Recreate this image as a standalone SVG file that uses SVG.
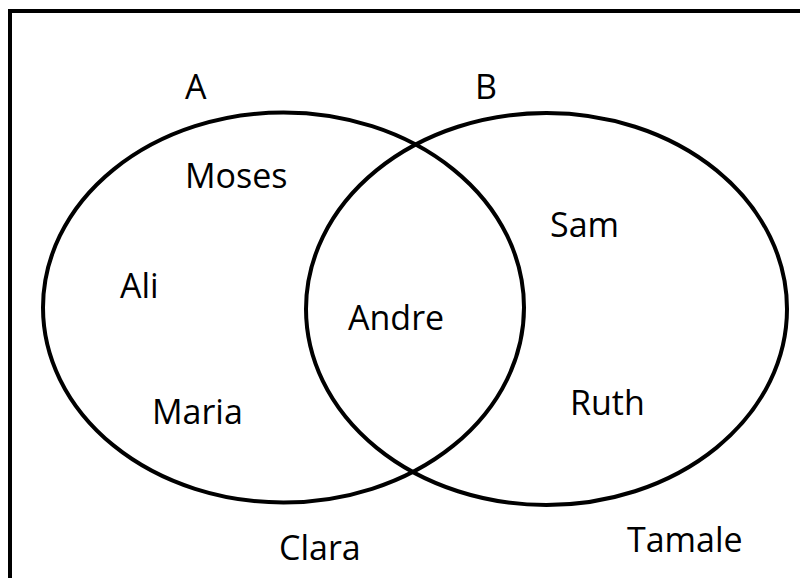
<svg xmlns="http://www.w3.org/2000/svg" width="800" height="578" viewBox="0 0 800 578">
<style>
.frame{fill:none;stroke:#000;stroke-width:4}
.set{fill:none;stroke:#000;stroke-width:4}
text{font-family:"Open Sans","Liberation Sans",sans-serif;font-size:34px;fill:#000}
</style>
<rect width="800" height="578" fill="#fff"/>
<rect class="frame" x="10" y="11" width="800" height="600"/>
<g id="setA">
<ellipse class="set" cx="283.5" cy="307.5" rx="240.5" ry="195"/>
<text x="185" y="99">A</text>
</g>
<g id="setB">
<ellipse class="set" cx="546.5" cy="309" rx="240.5" ry="196"/>
<text x="475" y="99">B</text>
</g>
<g id="connectors"></g>
<g id="moses"><text x="185" y="188">Moses</text></g>
<g id="ali"><text x="120" y="298">Ali</text></g>
<g id="maria"><text x="152" y="424">Maria</text></g>
<g id="andre"><text x="348" y="330">Andre</text></g>
<g id="sam"><text x="550" y="237">Sam</text></g>
<g id="ruth"><text x="570" y="415">Ruth</text></g>
<g id="clara"><text x="279" y="560">Clara</text></g>
<g id="tamale"><text x="627" y="552">Tamale</text></g>
</svg>
